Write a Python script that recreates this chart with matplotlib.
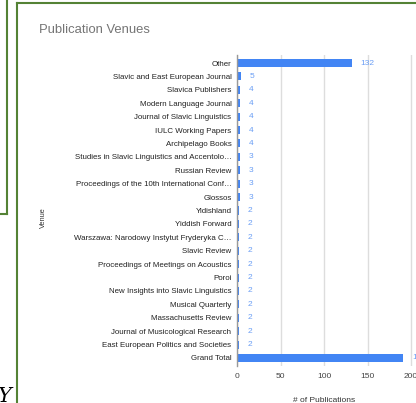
import matplotlib.pyplot as plt
from matplotlib.lines import Line2D

plt.rcParams['font.family'] = ['Liberation Sans', 'DejaVu Sans']

venues = [
    "Other",
    "Slavic and East European Journal",
    "Slavica Publishers",
    "Modern Language Journal",
    "Journal of Slavic Linguistics",
    "IULC Working Papers",
    "Archipelago Books",
    "Studies in Slavic Linguistics and Accentolo\u2026",
    "Russian Review",
    "Proceedings of the 10th International Conf\u2026",
    "Glossos",
    "Yidishland",
    "Yiddish Forward",
    "Warszawa: Narodowy Instytut Fryderyka C\u2026",
    "Slavic Review",
    "Proceedings of Meetings on Acoustics",
    "Poroi",
    "New Insights into Slavic Linguistics",
    "Musical Quarterly",
    "Massachusetts Review",
    "Journal of Musicological Research",
    "East European Politics and Societies",
    "Grand Total",
]
counts = [132, 5, 4, 4, 4, 4, 4, 3, 3, 3, 3, 2, 2, 2, 2, 2, 2, 2, 2, 2, 2, 2, 191]
xticks = [0, 50, 100, 150, 200]

W, H = 416, 403
fig = plt.figure(figsize=(W / 100, H / 100), dpi=100)
fig.patch.set_facecolor("white")


def fx(px):
    return px / W


def fy(py):
    return 1 - py / H


ax = fig.add_axes([fx(237), fy(366), fx(416) - fx(237), fy(55) - fy(366)])
pos = list(range(len(venues)))
ax.barh(pos, counts, height=0.6, color="#4285F4", zorder=3)
ax.set_ylim(len(venues) - 0.4, -0.6)
ax.set_xlim(0, 205.7)
ax.set_yticks(pos)
ax.set_yticklabels(venues, fontsize=5.7, color="#222222")
ax.set_xticks(xticks)
ax.set_xticklabels([str(t) for t in xticks], fontsize=6, color="#444444")
ax.tick_params(axis="y", length=0, pad=4)
ax.tick_params(axis="x", length=0, pad=5)
ax.grid(axis="x", color="#dddddd", linewidth=1, zorder=0)
for s in ["top", "right", "bottom"]:
    ax.spines[s].set_visible(False)
ax.spines["left"].set_color("#999999")
ax.spines["left"].set_linewidth(1)
ax.spines["left"].set_zorder(4)

for p, c in zip(pos, counts):
    ax.text(c + 10, p, str(c), va="center", ha="left", fontsize=6,
            color="#6a9ef5", clip_on=False)

fig.text(fx(39), fy(30), "Publication Venues", fontsize=9.4, color="#757575",
         va="center", ha="left")
fig.text(fx(43), fy(218), "Venue", fontsize=5.3, color="#333333",
         rotation=90, va="center", ha="center")
fig.text(fx(324), fy(400), "# of Publications", fontsize=6, color="#333333",
         va="center", ha="center")

green = "#548235"
lines = [
    ([7.5, 7.5], [-2, 214]),
    ([-2, 7.5], [214, 214]),
    ([16.5, 16.5], [3, 405]),
    ([16.5, 418], [3, 3]),
]
for xs, ys in lines:
    fig.add_artist(Line2D([fx(x) for x in xs], [fy(y) for y in ys],
                          color=green, linewidth=1.5))

fig.text(fx(-2), fy(406), "Y", fontsize=15, family="DejaVu Serif",
         style="italic", color="black", va="bottom", ha="left")

fig.savefig("out.png", dpi=100)
